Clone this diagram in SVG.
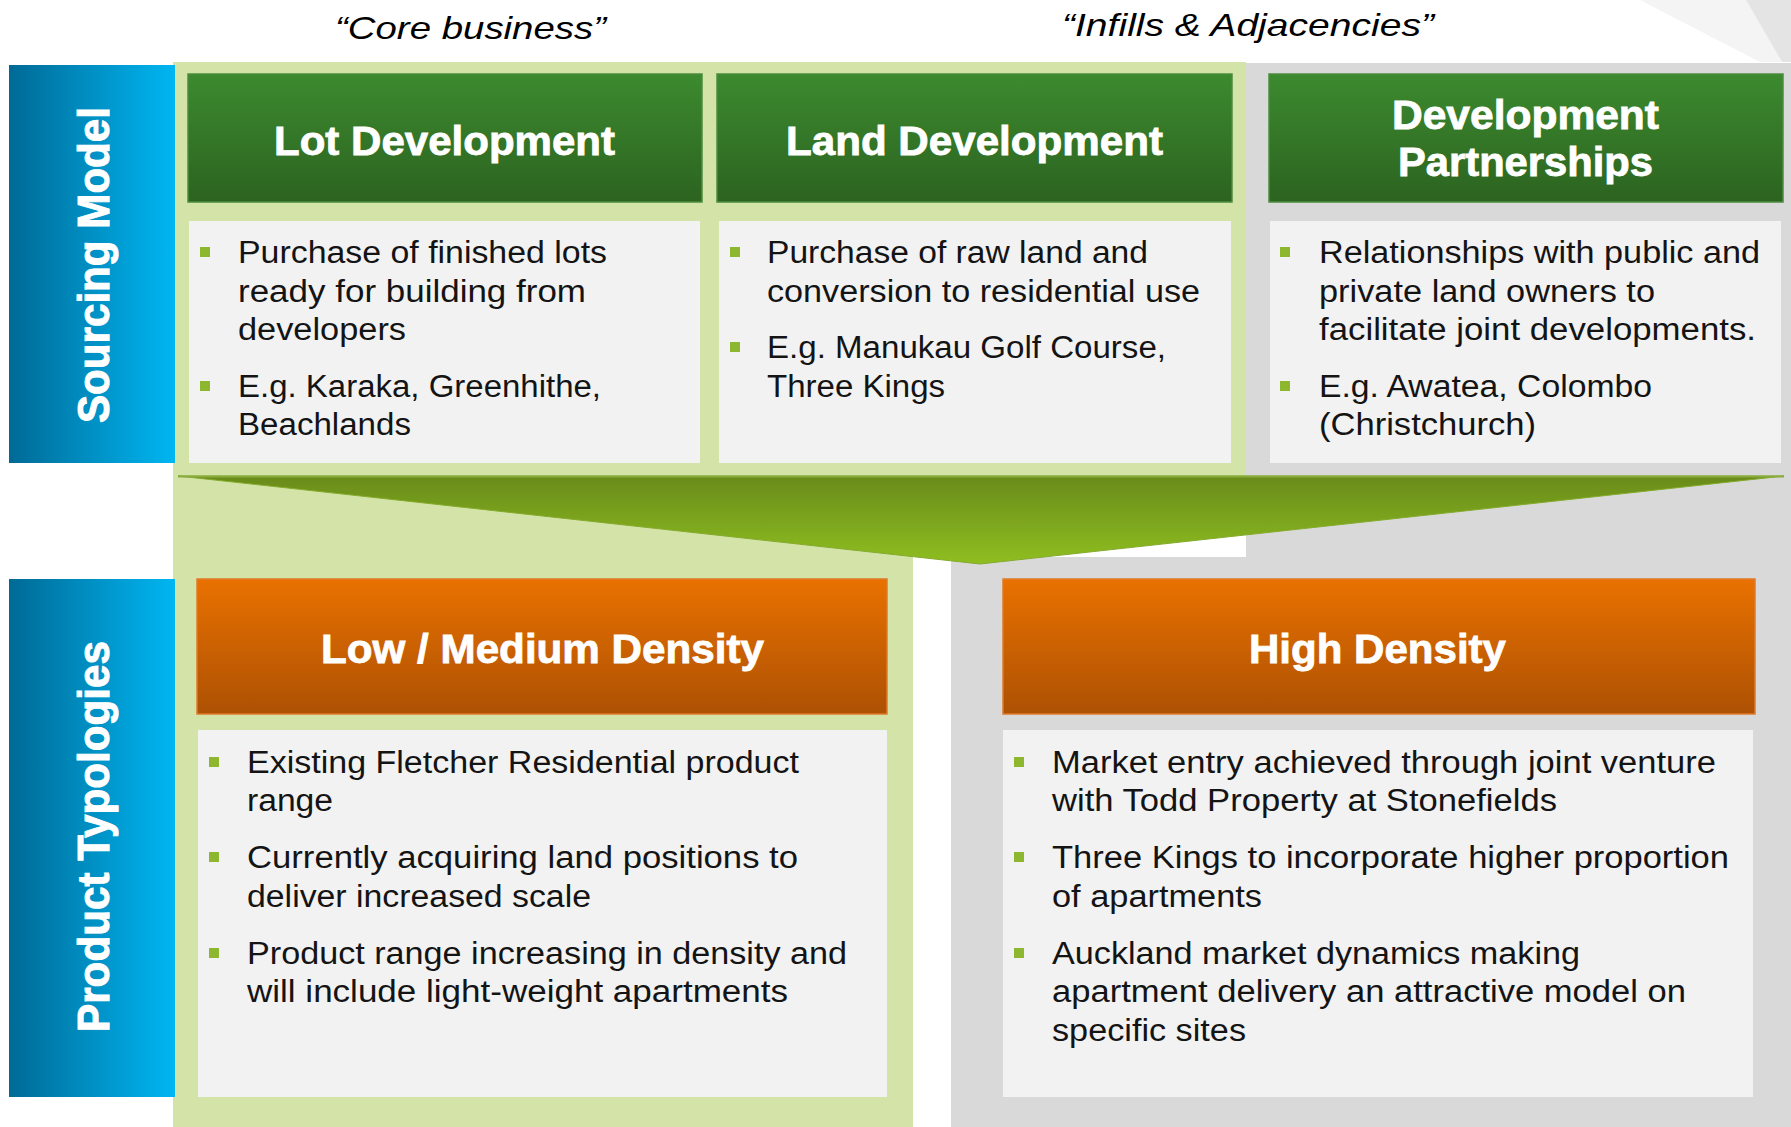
<svg xmlns="http://www.w3.org/2000/svg" width="1791" height="1127" viewBox="0 0 1791 1127">
  <defs>
    <linearGradient id="gBlue" x1="0" y1="0" x2="1" y2="0">
      <stop offset="0" stop-color="#006a96"/>
      <stop offset="1" stop-color="#00b6f2"/>
    </linearGradient>
    <linearGradient id="gGreen" x1="0" y1="0" x2="0" y2="1">
      <stop offset="0" stop-color="#3c8a2f"/>
      <stop offset="1" stop-color="#2c6320"/>
    </linearGradient>
    <linearGradient id="gOrange" x1="0" y1="0" x2="0" y2="1">
      <stop offset="0" stop-color="#e97100"/>
      <stop offset="1" stop-color="#ad5104"/>
    </linearGradient>
    <linearGradient id="gArrow" gradientUnits="userSpaceOnUse" x1="0" y1="476" x2="0" y2="564">
      <stop offset="0" stop-color="#698b1a"/>
      <stop offset="1" stop-color="#8fbe20"/>
    </linearGradient>
  </defs>
  <style>
    text { font-family: "Liberation Sans", Arial, sans-serif; }
    .title { font-style: italic; font-size: 32px; fill: #000; }
    .side { font-weight: bold; font-size: 45px; fill: #fff; stroke: #fff; stroke-width: 1; }
    .head { font-weight: bold; font-size: 40px; fill: #fff; stroke: #fff; stroke-width: 0.8; }
    .body { font-size: 31px; fill: #141414; }
    .bullet { fill: #8cb72f; }
    .box { fill: #f2f2f2; }
    .hg { fill: url(#gGreen); stroke: #4b8c3e; stroke-width: 1.5; }
    .ho { fill: url(#gOrange); stroke: #e07a28; stroke-width: 1.5; }
    .sidebar { fill: url(#gBlue); }
  </style>

  <!-- page -->
  <rect width="1791" height="1127" fill="#ffffff"/>
  <polygon points="1640,0 1746,0 1782,62 1760,62" fill="#f4f4f5"/>
  <polygon points="1746,0 1791,0 1791,62 1782,62" fill="#e4e4e5"/>

  <!-- column labels -->
  <text class="title" x="335" y="39" textLength="271" lengthAdjust="spacingAndGlyphs">“Core business”</text>
  <text class="title" x="1062" y="36" textLength="372" lengthAdjust="spacingAndGlyphs">“Infills &amp; Adjacencies”</text>

  <!-- background panels -->
  <path d="M173,62 H1246 V476 H913 V1127 H173 Z" fill="#d4e4a9"/>
  <path d="M1246,63 H1791 V1127 H951 V557 H1246 Z" fill="#d9d9d9"/>

  <!-- row labels -->
  <g id="sourcing-model">
    <rect class="sidebar" x="9" y="65" width="166" height="398"/>
    <text class="side" transform="translate(109,423) rotate(-90)" textLength="316" lengthAdjust="spacingAndGlyphs">Sourcing Model</text>
  </g>
  <g id="product-typologies">
    <rect class="sidebar" x="9" y="579" width="166" height="518"/>
    <text class="side" transform="translate(109,1032) rotate(-90)" textLength="391" lengthAdjust="spacingAndGlyphs">Product Typologies</text>
  </g>

  <!-- sourcing: lot development -->
  <g id="lot-development">
    <rect class="hg" x="188" y="74" width="514" height="128"/>
    <text class="head" x="274" y="155" textLength="341" lengthAdjust="spacingAndGlyphs">Lot Development</text>
    <rect class="box" x="189" y="221" width="511" height="242"/>
    <rect class="bullet" x="200" y="247" width="10" height="10"/>
    <text class="body" x="238" y="263" textLength="369" lengthAdjust="spacingAndGlyphs">Purchase of finished lots</text>
    <text class="body" x="238" y="302" textLength="348" lengthAdjust="spacingAndGlyphs">ready for building from</text>
    <text class="body" x="238" y="340" textLength="168" lengthAdjust="spacingAndGlyphs">developers</text>
    <rect class="bullet" x="200" y="381" width="10" height="10"/>
    <text class="body" x="238" y="397" textLength="363" lengthAdjust="spacingAndGlyphs">E.g. Karaka, Greenhithe,</text>
    <text class="body" x="238" y="435" textLength="173" lengthAdjust="spacingAndGlyphs">Beachlands</text>
  </g>

  <!-- sourcing: land development -->
  <g id="land-development">
    <rect class="hg" x="717" y="74" width="515" height="128"/>
    <text class="head" x="786" y="155" textLength="377" lengthAdjust="spacingAndGlyphs">Land Development</text>
    <rect class="box" x="719" y="221" width="512" height="242"/>
    <rect class="bullet" x="730" y="247" width="10" height="10"/>
    <text class="body" x="767" y="263" textLength="381" lengthAdjust="spacingAndGlyphs">Purchase of raw land and</text>
    <text class="body" x="767" y="302" textLength="433" lengthAdjust="spacingAndGlyphs">conversion to residential use</text>
    <rect class="bullet" x="730" y="342" width="10" height="10"/>
    <text class="body" x="767" y="358" textLength="399" lengthAdjust="spacingAndGlyphs">E.g. Manukau Golf Course,</text>
    <text class="body" x="767" y="397" textLength="178" lengthAdjust="spacingAndGlyphs">Three Kings</text>
  </g>

  <!-- sourcing: development partnerships -->
  <g id="development-partnerships">
    <rect class="hg" x="1269" y="74" width="514" height="128"/>
    <text class="head" x="1392" y="129" textLength="267" lengthAdjust="spacingAndGlyphs">Development</text>
    <text class="head" x="1398" y="176" textLength="255" lengthAdjust="spacingAndGlyphs">Partnerships</text>
    <rect class="box" x="1270" y="221" width="511" height="242"/>
    <rect class="bullet" x="1280" y="247" width="10" height="10"/>
    <text class="body" x="1319" y="263" textLength="441" lengthAdjust="spacingAndGlyphs">Relationships with public and</text>
    <text class="body" x="1319" y="302" textLength="336" lengthAdjust="spacingAndGlyphs">private land owners to</text>
    <text class="body" x="1319" y="340" textLength="437" lengthAdjust="spacingAndGlyphs">facilitate joint developments.</text>
    <rect class="bullet" x="1280" y="381" width="10" height="10"/>
    <text class="body" x="1319" y="397" textLength="333" lengthAdjust="spacingAndGlyphs">E.g. Awatea, Colombo</text>
    <text class="body" x="1319" y="435" textLength="217" lengthAdjust="spacingAndGlyphs">(Christchurch)</text>
  </g>

  <!-- funnel from sourcing models into product types -->
  <g id="connectors">
    <polygon points="178,476 1784,476 980,564" fill="url(#gArrow)" stroke="#84aa2c" stroke-width="1"/>
    <line x1="178" y1="476.5" x2="1784" y2="476.5" stroke="#8aac3e" stroke-width="2"/>
  </g>

  <!-- product: low / medium density -->
  <g id="low-medium-density">
    <rect class="ho" x="197" y="579" width="690" height="135"/>
    <text class="head" x="321" y="663" textLength="443" lengthAdjust="spacingAndGlyphs">Low / Medium Density</text>
    <rect class="box" x="198" y="730" width="689" height="367"/>
    <rect class="bullet" x="209" y="757" width="10" height="10"/>
    <text class="body" x="247" y="773" textLength="552" lengthAdjust="spacingAndGlyphs">Existing Fletcher Residential product</text>
    <text class="body" x="247" y="811" textLength="86" lengthAdjust="spacingAndGlyphs">range</text>
    <rect class="bullet" x="209" y="852" width="10" height="10"/>
    <text class="body" x="247" y="868" textLength="551" lengthAdjust="spacingAndGlyphs">Currently acquiring land positions to</text>
    <text class="body" x="247" y="907" textLength="344" lengthAdjust="spacingAndGlyphs">deliver increased scale</text>
    <rect class="bullet" x="209" y="948" width="10" height="10"/>
    <text class="body" x="247" y="964" textLength="600" lengthAdjust="spacingAndGlyphs">Product range increasing in density and</text>
    <text class="body" x="247" y="1002" textLength="541" lengthAdjust="spacingAndGlyphs">will include light-weight apartments</text>
  </g>

  <!-- product: high density -->
  <g id="high-density">
    <rect class="ho" x="1003" y="579" width="752" height="135"/>
    <text class="head" x="1249" y="663" textLength="257" lengthAdjust="spacingAndGlyphs">High Density</text>
    <rect class="box" x="1003" y="730" width="750" height="367"/>
    <rect class="bullet" x="1014" y="757" width="10" height="10"/>
    <text class="body" x="1052" y="773" textLength="664" lengthAdjust="spacingAndGlyphs">Market entry achieved through joint venture</text>
    <text class="body" x="1052" y="811" textLength="505" lengthAdjust="spacingAndGlyphs">with Todd Property at Stonefields</text>
    <rect class="bullet" x="1014" y="852" width="10" height="10"/>
    <text class="body" x="1052" y="868" textLength="677" lengthAdjust="spacingAndGlyphs">Three Kings to incorporate higher proportion</text>
    <text class="body" x="1052" y="907" textLength="210" lengthAdjust="spacingAndGlyphs">of apartments</text>
    <rect class="bullet" x="1014" y="948" width="10" height="10"/>
    <text class="body" x="1052" y="964" textLength="528" lengthAdjust="spacingAndGlyphs">Auckland market dynamics making</text>
    <text class="body" x="1052" y="1002" textLength="634" lengthAdjust="spacingAndGlyphs">apartment delivery an attractive model on</text>
    <text class="body" x="1052" y="1041" textLength="194" lengthAdjust="spacingAndGlyphs">specific sites</text>
  </g>
</svg>
